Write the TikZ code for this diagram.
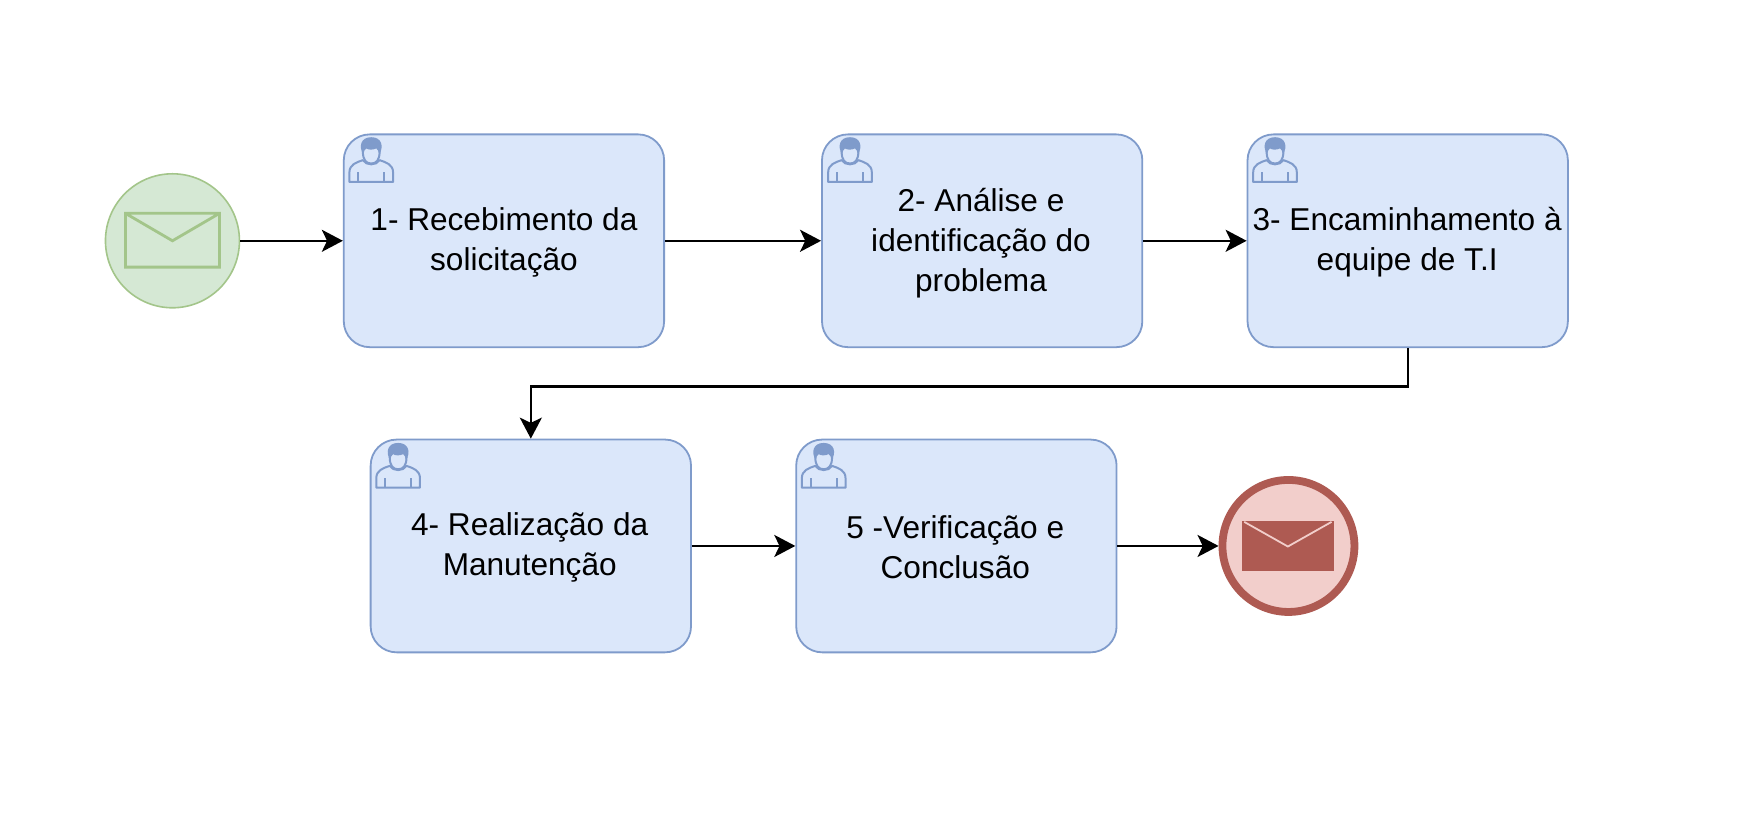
\documentclass[tikz,border=0pt]{standalone}
\usepackage{fontspec}
\setmainfont{Liberation Sans}
\usetikzlibrary{arrows.meta,calc}
\definecolor{taskfill}{HTML}{DBE7FA}
\definecolor{taskline}{HTML}{7F9BCB}
\definecolor{startfill}{HTML}{D5E8D4}
\definecolor{startline}{HTML}{A3C58A}
\definecolor{endfill}{HTML}{F2CECB}
\definecolor{endline}{HTML}{AE5A52}
\tikzset{
  x=0.56pt,y=-0.56pt,
  taskbox/.style={draw=taskline,fill=taskfill,line width=0.9pt,rounded corners=13pt,minimum width=160.2pt,minimum height=106.4pt,inner sep=0pt},
  tasktext/.style={inner sep=0pt,align=center,font=\fontsize{15.8}{20}\selectfont},
  flow/.style={draw=black,line width=1.15pt,-{Stealth[length=10.5pt,width=11pt,inset=2.6pt]}},
  iconline/.style={draw=taskline,line width=1pt,line join=round},
  person/.pic={
    \draw[iconline] (1,38.5) -- (1,30) .. controls (1,23) and (7,21) .. (13,19) .. controls (16,24) and (25,24) .. (28,19) .. controls (34,21) and (40,23) .. (40,30) -- (40,38.5) -- cycle;
    \draw[iconline] (9,38.5) -- (9,30) (32,38.5) -- (32,30);
    \draw[iconline] (13,11) .. controls (13,19) and (16,22) .. (20.5,22) .. controls (25,22) and (28,19) .. (28,11);
    \fill[taskline] (13.5,14) .. controls (9,7) and (11,-1.5) .. (20.5,-1.5) .. controls (30,-1.5) and (32,7) .. (27.5,14) .. controls (27,11) and (26.5,9.5) .. (25,8.5) .. controls (22,10) and (18,10) .. (16,8.5) .. controls (14.5,9.5) and (14,11) .. (13.5,14) -- cycle;
  }
}
\begin{document}
\begin{tikzpicture}
\useasboundingbox (0,0) rectangle (1568,732.2);
\fill[white] (0,0) rectangle (1568,732.2);
\node[circle,draw=startline,fill=startfill,line width=0.8pt,minimum size=67pt,inner sep=0pt] (start) at (154,215) {};
\draw[draw=startline,line width=1.4pt,line join=miter] (112,190.5) rectangle (196,238.5) (112,190.5) -- (154,215) -- (196,190.5);
\node[taskbox] (t1) at (450,215) {};
\node[taskbox] (t2) at (877,215) {};
\node[taskbox] (t3) at (1257,215) {};
\node[taskbox] (t4) at (474,487.5) {};
\node[taskbox] (t5) at (854,487.5) {};
\node[tasktext] (l1) at (450,216.5) {1- Recebimento da\\solicitação};
\node[tasktext] (l2) at (876,217) {2- Análise e\\identificação do\\problema};
\node[tasktext] (l3) at (1256.5,216.5) {3- Encaminhamento à\\equipe de T.I};
\node[tasktext] (l4) at (473,489) {4- Realização da\\Manutenção};
\node[tasktext] (l5) at (853,489) {5 -Verificação e\\Conclusão};
\node[circle,draw=endline,fill=endfill,line width=3.9pt,minimum size=66pt,inner sep=0pt] (finish) at (1150.5,487.5) {};
\fill[endline] (1109,465.5) rectangle (1191,510);
\draw[endfill,line width=0.9pt] (1111,466) -- (1150,488) -- (1189,466);
\foreach \n/\x/\y in {t1/311/124,t2/738.5/124,t3/1118/124,t4/335/397,t5/715/397}
  \pic at (\x,\y) {person};
\coordinate (turn) at (474,345);
\draw[flow] (start) -- (t1);
\draw[flow] (t1) -- (t2);
\draw[flow] (t2) -- (t3);
\draw[flow] (t3.south) -- (t3.south |- turn) -- (turn) -- (t4.north);
\draw[flow] (t4) -- (t5);
\draw[flow] (t5) -- (finish);
\end{tikzpicture}
\end{document}
